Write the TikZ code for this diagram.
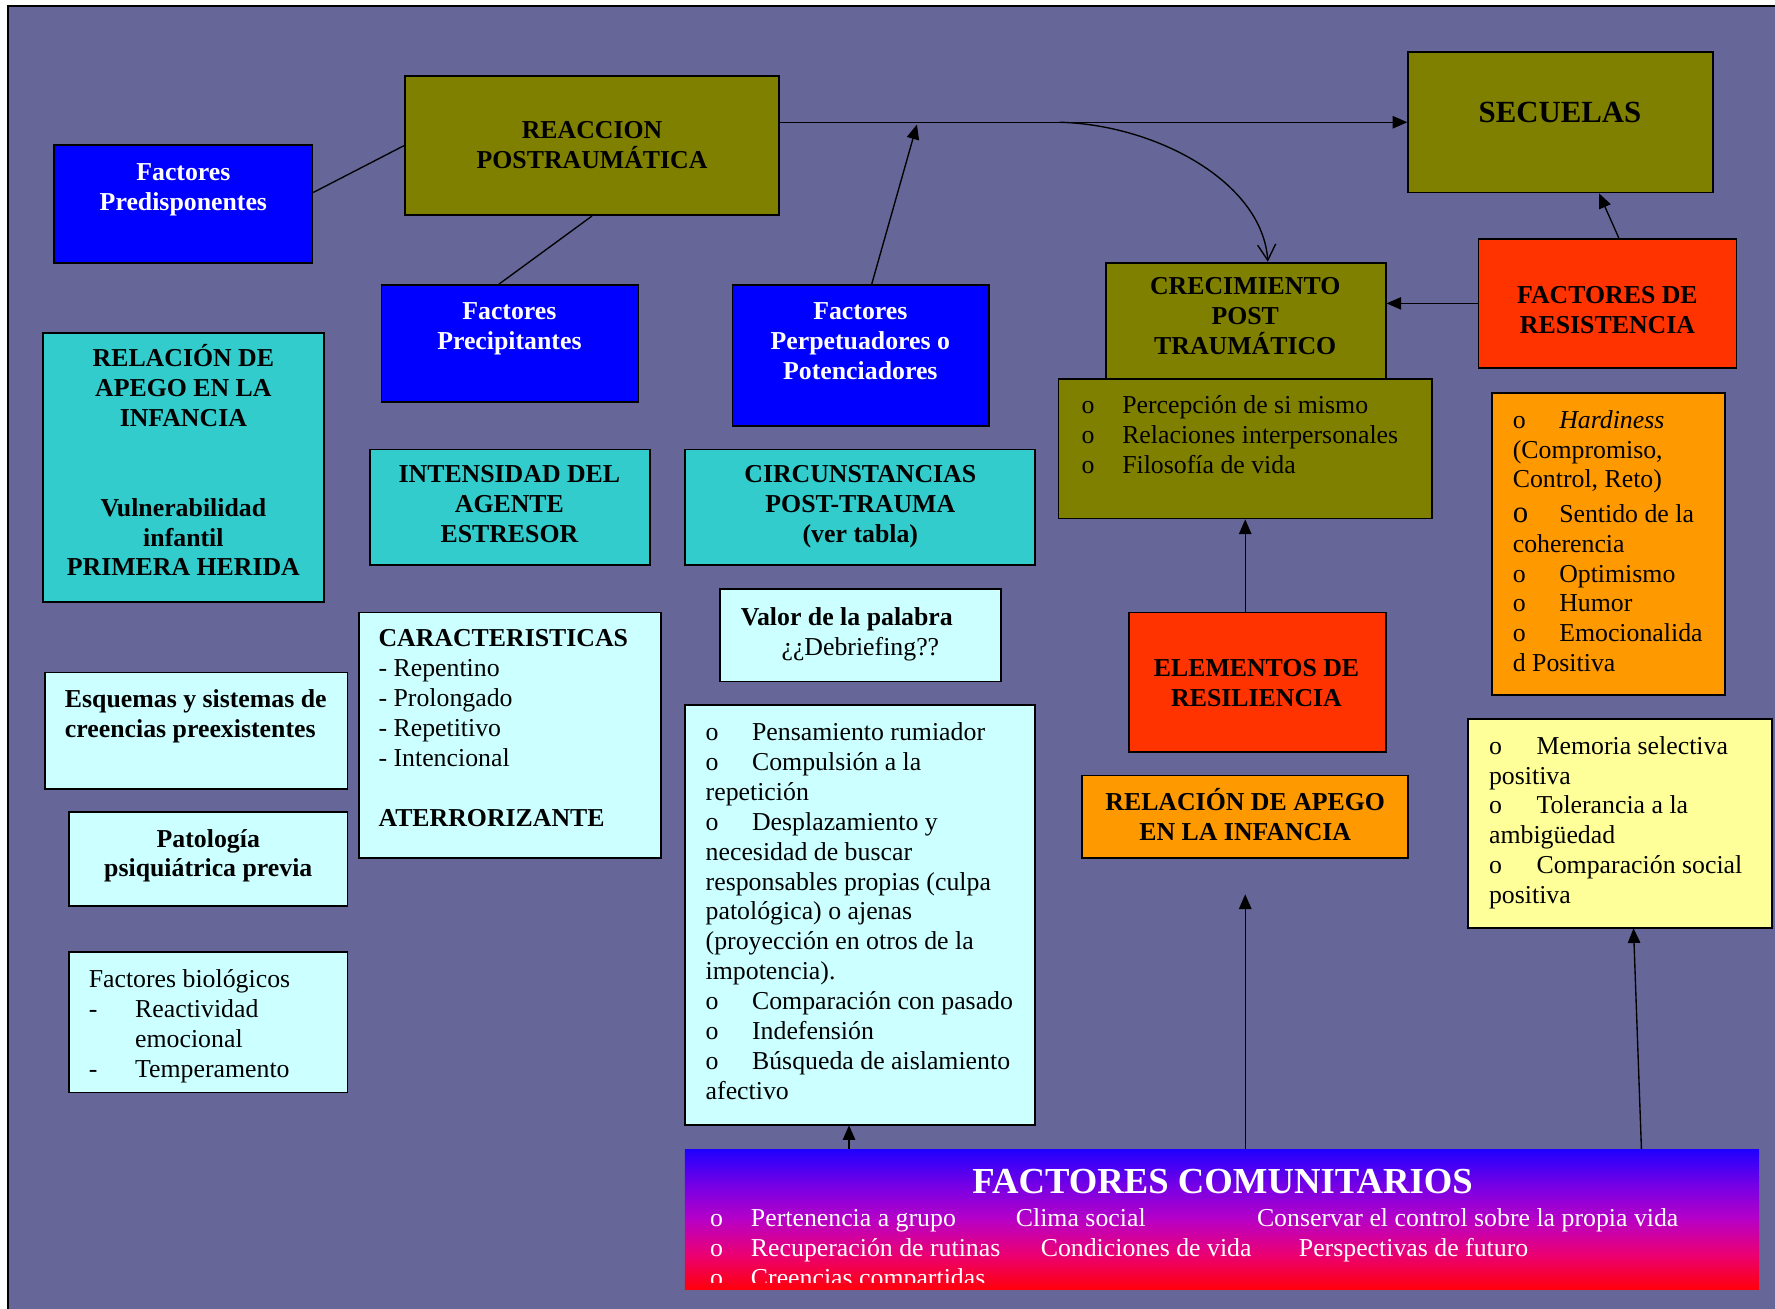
\documentclass[tikz,border=0pt]{standalone}
\usepackage{fontspec}
\setmainfont{Liberation Serif}
\usetikzlibrary{arrows.meta,fit}

\definecolor{bgpurple}{RGB}{102,102,153}
\definecolor{boxolive}{RGB}{128,128,0}
\definecolor{boxblue}{RGB}{0,0,255}
\definecolor{boxteal}{RGB}{51,204,204}
\definecolor{boxcyan}{RGB}{204,255,255}
\definecolor{boxred}{RGB}{255,51,0}
\definecolor{boxorange}{RGB}{255,153,0}
\definecolor{boxyellow}{RGB}{255,255,153}

% blue-to-red band behind the community factors (path spans 25bp..75bp)
\pgfdeclareverticalshading{comgrad}{100bp}{%
  rgb(0bp)=(1,0,0.02);
  rgb(25bp)=(1,0,0.04);
  rgb(37.5bp)=(0.92,0,0.45);
  rgb(50bp)=(0.72,0,0.78);
  rgb(62.5bp)=(0.45,0,0.9);
  rgb(75bp)=(0.12,0,1);
  rgb(100bp)=(0.12,0,1)}

\newcommand\fs{\fontsize{11.4pt}{13.2pt}\selectfont}
\newcommand\bul[1]{\makebox[#1][l]{o}}

\tikzset{
  box/.style={draw=black, line width=0.8pt, inner sep=0pt},
  txt/.style={inner sep=0pt, font=\fs, execute at begin node=\strut, yshift=-2pt},
  ctr/.style={txt, anchor=north, align=center},
  lft/.style={txt, anchor=north west, align=left},
  arr/.style={-{Triangle[length=6.5pt,width=5.5pt]}, line width=0.6pt},
  plain/.style={line width=0.6pt},
}

\begin{document}
\begin{tikzpicture}[x=0.5pt,y=-0.5pt]
\useasboundingbox (0,0) rectangle (1568,1156);
\fill[white] (0,0) rectangle (1568,1156);
\fill[bgpurple] (7,5) rectangle (1568,1156);
\draw[line width=1pt] (7,1156) -- (7,5) -- (1568,5);

% ---- boxes ----
\node[box, fill=boxblue,   fit={(48,128)(276,232)}]   (pred) {};
\node[box, fill=boxolive,  fit={(358,67)(688,190)}]   (reac) {};
\node[box, fill=boxolive,  fit={(1244,46)(1513,170)}] (secu) {};
\node[box, fill=boxblue,   fit={(337,252)(564,355)}]  (prec) {};
\node[box, fill=boxblue,   fit={(647,252)(874,376)}]  (perp) {};
\node[box, fill=boxolive,  fit={(977,232)(1224,335)}] (crec) {};
\node[box, fill=boxred,    fit={(1306,211)(1534,325)}] (resi) {};
\node[box, fill=boxolive,  fit={(935,335)(1265,458)}] (crecl) {};
\node[box, fill=boxteal,   fit={(38,294)(286,532)}]   (apego) {};
\node[box, fill=boxteal,   fit={(327,397)(574,499)}]  (inten) {};
\node[box, fill=boxteal,   fit={(605,397)(914,499)}]  (circ) {};
\node[box, fill=boxorange, fit={(1318,347)(1524,614)}] (hard) {};
\node[box, fill=boxcyan,   fit={(636,520)(884,602)}]  (valor) {};
\node[box, fill=boxcyan,   fit={(317,541)(584,758)}]  (carac) {};
\node[box, fill=boxcyan,   fit={(40,594)(307,697)}]   (esq) {};
\node[box, fill=boxcyan,   fit={(61,717)(307,800)}]   (pato) {};
\node[box, fill=boxcyan,   fit={(61,841)(307,965)}]   (bio) {};
\node[box, fill=boxcyan,   fit={(605,623)(914,994)}]  (reacl) {};
\node[box, fill=boxred,    fit={(997,541)(1224,664)}] (elem) {};
\node[box, fill=boxorange, fit={(956,685)(1244,758)}] (apego2) {};
\node[box, fill=boxyellow, fit={(1297,635)(1565,820)}] (posit) {};
\node[inner sep=0pt, shading=comgrad, fit={(605,1015)(1554,1139)}] (comu) {};

% ---- texts ----
\node[ctr, text=white, font=\fs\bfseries] (predT) at (162,140) {Factores\\Predisponentes};
\node[ctr, font=\fs\bfseries] (reacT) at (523,103) {REACCION\\POSTRAUMÁTICA};
\node[inner sep=0pt, anchor=base, font=\fontsize{13.6pt}{16pt}\selectfont\bfseries] (secuT) at (1378,108) {SECUELAS};
\node[ctr, text=white, font=\fs\bfseries] (precT) at (450,263) {Factores\\Precipitantes};
\node[ctr, text=white, font=\fs\bfseries] (perpT) at (760,263) {Factores\\Perpetuadores o\\Potenciadores};
\node[ctr, font=\fs\bfseries] (crecT) at (1100,241) {CRECIMIENTO\\POST\\TRAUMÁTICO};
\node[ctr, font=\fs\bfseries] (resiT) at (1420,249) {FACTORES DE\\RESISTENCIA};
\node[lft] (crecLT) at (955,345) {\bul{18pt}Percepción de si mismo\\\bul{18pt}Relaciones interpersonales\\\bul{18pt}Filosofía de vida};
\node[ctr, font=\fs\bfseries] (apegoT) at (162,300) {RELACIÓN DE\\APEGO EN LA\\INFANCIA\\[26.4pt]Vulnerabilidad\\infantil\\PRIMERA HERIDA};
\node[ctr, font=\fs\bfseries] (intenT) at (450,407) {INTENSIDAD DEL\\AGENTE\\ESTRESOR};
\node[ctr, font=\fs\bfseries] (circT) at (760,407) {CIRCUNSTANCIAS\\POST-TRAUMA\\(ver tabla)};
\node[lft] (hardT) at (1336,358) {\bul{20.5pt}\textit{Hardiness}\\(Compromiso,\\Control, Reto)\\[2pt]\makebox[20.5pt][l]{\fontsize{13.6pt}{13.2pt}\selectfont o}Sentido de la\\coherencia\\\bul{20.5pt}Optimismo\\\bul{20.5pt}Humor\\\bul{20.5pt}Emocionalida\\d Positiva};
\node[lft] (valorT) at (654,532) {\textbf{Valor de la palabra}\\\hspace*{18pt}¿¿Debriefing??};
\node[lft] (caracT) at (334,552) {\textbf{CARACTERISTICAS}\\- Repentino\\- Prolongado\\- Repetitivo\\- Intencional\\[13.2pt]\textbf{ATERRORIZANTE}};
\node[lft, font=\fs\bfseries] (esqT) at (57,605) {Esquemas y sistemas de\\creencias preexistentes};
\node[ctr, font=\fs\bfseries] (patoT) at (184,728) {Patología\\psiquiátrica previa};
\node[lft] (bioT) at (78,852) {Factores biológicos\\\makebox[20.5pt][l]{-}Reactividad\\\hspace*{20.5pt}emocional\\\makebox[20.5pt][l]{-}Temperamento};
\node[lft] (reaclT) at (623,634) {\bul{20.5pt}Pensamiento rumiador\\\bul{20.5pt}Compulsión a la\\repetición\\\bul{20.5pt}Desplazamiento y\\necesidad de buscar\\responsables propias (culpa\\patológica) o ajenas\\(proyección en otros de la\\impotencia).\\\bul{20.5pt}Comparación con pasado\\\bul{20.5pt}Indefensión\\\bul{20.5pt}Búsqueda de aislamiento\\afectivo};
\node[ctr, font=\fs\bfseries] (elemT) at (1110,578) {ELEMENTOS DE\\RESILIENCIA};
\node[ctr, font=\fs\bfseries] (apego2T) at (1100,692) {RELACIÓN DE APEGO\\EN LA INFANCIA};
\node[lft] (positT) at (1315,646) {\bul{21pt}Memoria selectiva\\positiva\\\bul{21pt}Tolerancia a la\\ambigüedad\\\bul{21pt}Comparación social\\positiva};
\node[inner sep=0pt, anchor=base, text=white, font=\fontsize{16.2pt}{18pt}\selectfont\bfseries] (comuT) at (1080,1054) {FACTORES COMUNITARIOS};
\begin{scope}
  \clip (605,1015) rectangle (1554,1133);
  \node[lft, text=white] (comuL) at (627,1063) {%
    \bul{18pt}\makebox[117pt][l]{Pertenencia a grupo}\makebox[106.5pt][l]{Clima social}Conservar el control sobre la propia vida\\
    \bul{18pt}\makebox[128pt][l]{Recuperación de rutinas}\makebox[114pt][l]{Condiciones de vida}Perspectivas de futuro\\
    \bul{18pt}Creencias compartidas};
\end{scope}

% ---- connectors ----
\coordinate (perpTip) at (810,110);
\coordinate (split) at (936,108);
\coordinate (apegoTip) at (1100,790);
\coordinate (reaclIn) at (750,994);
\coordinate (positIn) at (1443,820);
\coordinate (comuY) at (1450,1015);

\draw[plain] ([yshift=5pt]pred.east) -- (reac.west);
\draw[plain] (reac.south) -- ([xshift=-5pt]prec.north);
\draw[arr] (reac.east |- secu.west) -- (secu.west);
\draw[arr] ([xshift=4.75pt]perp.north) -- (perpTip);
\draw[line width=0.6pt, -{Straight Barb[length=7pt,width=8pt]}]
  (split) .. controls (1020,110) and (1115,160) .. ([xshift=9.75pt]crec.north);
\draw[arr] (resi.west) -- (resi.west -| crec.east);
\draw[arr] ([xshift=5pt]resi.north) -- ([xshift=17pt]secu.south);
\draw[arr] (crecl.south |- elem.north) -- (crecl.south);
\draw[arr] (comu.north -| apegoTip) -- (apegoTip);
\draw[arr] (comuY) -- (positIn);
\draw[arr] (comu.north -| reaclIn) -- (reaclIn);
\end{tikzpicture}
\end{document}
